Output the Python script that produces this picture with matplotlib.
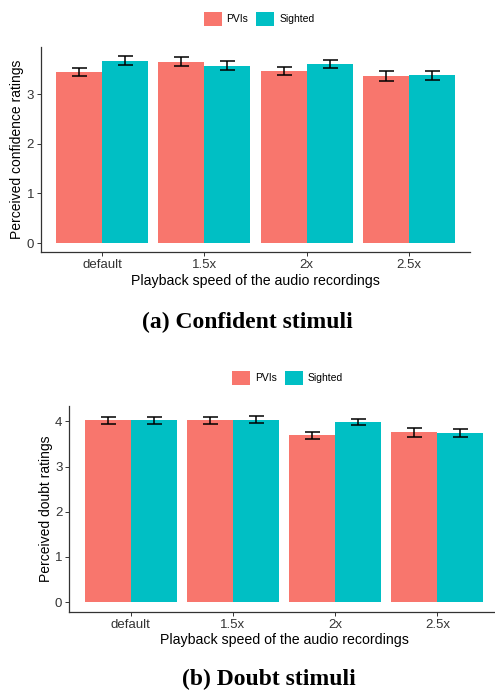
import numpy as np
import matplotlib.pyplot as plt
from matplotlib.patches import Patch

speeds = ["default", "1.5x", "2x", "2.5x"]
groups = ["PVIs", "Sighted"]

# (a) confident stimuli
conf_pvi = [3.45, 3.66, 3.47, 3.36]
conf_pvi_err = [0.09, 0.09, 0.085, 0.10]
conf_sig = [3.68, 3.58, 3.61, 3.38]
conf_sig_err = [0.085, 0.085, 0.08, 0.085]

# (b) doubt stimuli
doubt_pvi = [4.02, 4.02, 3.69, 3.76]
doubt_pvi_err = [0.075, 0.08, 0.085, 0.10]
doubt_sig = [4.02, 4.04, 3.98, 3.74]
doubt_sig_err = [0.07, 0.08, 0.07, 0.085]

colors = ["#F8766D", "#00BFC4"]
W, H = 495, 690


def panel(rect, pvi, pvi_err, sig, sig_err, ylab, yticks, ylim):
    l, t, r, b = rect
    ax = fig.add_axes([l / W, 1 - b / H, (r - l) / W, (b - t) / H])
    x = np.arange(len(speeds))
    bw = 0.45
    for vals, errs, c, off in [(pvi, pvi_err, colors[0], -bw / 2), (sig, sig_err, colors[1], bw / 2)]:
        ax.bar(x + off, vals, width=bw, color=c, linewidth=0)
        ax.errorbar(x + off, vals, yerr=errs, fmt="none", ecolor="black",
                    elinewidth=1.1, capsize=5.4, capthick=1.1)
    ax.set_xlim(-0.6, len(speeds) - 0.4)
    ax.set_ylim(*ylim)
    ax.set_xticks(x)
    ax.set_xticklabels(speeds)
    ax.set_yticks(yticks)
    for s in ["top", "right"]:
        ax.spines[s].set_visible(False)
    for s in ["left", "bottom"]:
        ax.spines[s].set_color("#333333")
        ax.spines[s].set_linewidth(0.9)
    ax.tick_params(colors="#333333", labelcolor="#333333", labelsize=9.5, length=3, width=0.7, pad=2)
    ax.set_xlabel("Playback speed of the audio recordings", fontsize=10.2, labelpad=2)
    ax.set_ylabel(ylab, fontsize=10, labelpad=1.5)
    return ax


plt.rcParams["font.family"] = ["Liberation Sans", "DejaVu Sans"]
fig = plt.figure(figsize=(W / 100, H / 100), dpi=100)

panel((41, 46.7, 470, 252), conf_pvi, conf_pvi_err, conf_sig, conf_sig_err,
      "Perceived confidence ratings", [0, 1, 2, 3], (-0.18, 3.96))
panel((69.3, 406, 498.7, 611.7), doubt_pvi, doubt_pvi_err, doubt_sig, doubt_sig_err,
      "Perceived doubt ratings", [0, 1, 2, 3, 4], (-0.21, 4.34))

handles = [Patch(facecolor=c, edgecolor="none") for c in colors]
for cx, cy in [(259, 19), (287.5, 378)]:
    fig.legend(handles, groups, ncol=2, loc="center", bbox_to_anchor=(cx / W, 1 - cy / H),
               frameon=False, fontsize=7.5, handlelength=1.75, handleheight=1.75,
               handletextpad=0.45, columnspacing=0.75, borderpad=0)

fig.text(247 / W, 1 - 322 / H, "(a) Confident stimuli", ha="center", va="center",
         family="Liberation Serif", fontweight="bold", fontsize=17)
fig.text(269 / W, 1 - 679 / H, "(b) Doubt stimuli", ha="center", va="center",
         family="Liberation Serif", fontweight="bold", fontsize=17)

fig.savefig("out.png", dpi=100)
